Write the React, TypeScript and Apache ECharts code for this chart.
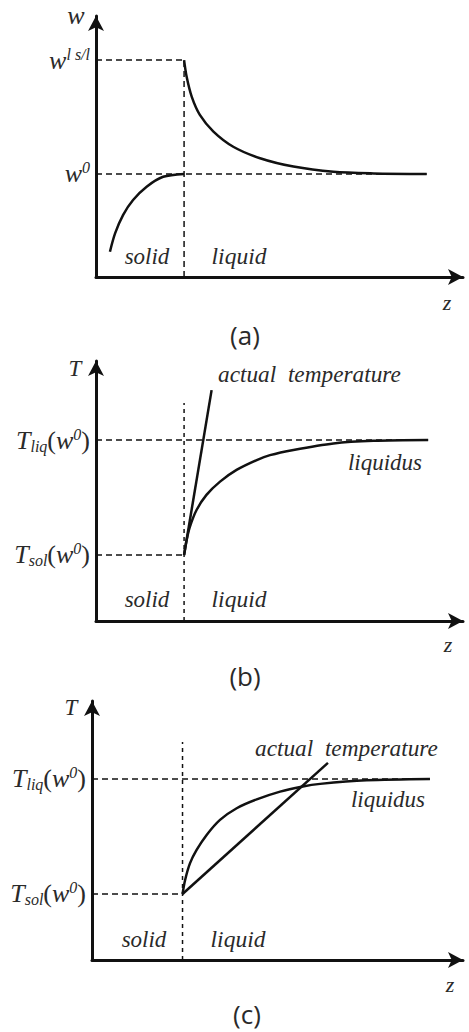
import React, { useEffect, useRef } from "react";
import * as echarts from "echarts";

// ---- Panel (a): solute concentration w across the solid/liquid interface ----
const aInterfaceZ = 24.0;
const aW0 = 39.5;
const aWsl = 83.1;
const aFarZ = 90.1;
const aSolidZ = [3.8, 5.2, 7.4, 10.1, 13.8, 18.3, 24.0];
const aSolidW = [9.7, 16.7, 23.8, 29.5, 34.6, 38.4, 39.5];
const aLiquidZ = [24.0, 24.7, 26.1, 28.3, 32.0, 37.4, 44.7, 53.8, 64.7, 75.6, 90.1];
const aLiquidW = [83.1, 76.7, 69.0, 62.1, 55.7, 49.9, 45.5, 42.3, 40.3, 39.7, 39.5];

// ---- Panel (b): steep actual temperature gradient ----
const bInterfaceZ = 24.0;
const bTsol = 25.4;
const bTliq = 69.6;
const bDividerTop = 83.8;
const bFarZ = 90.5;
const bActualZ = [24.0, 31.5];
const bActualT = [25.4, 88.8];
const bLiquidusZ = [24.0, 24.7, 25.6, 27.4, 30.1, 33.8, 38.3, 43.8, 47.4, 53.8, 64.7, 75.6, 90.5];
const bLiquidusT = [25.4, 31.2, 36.3, 42.7, 48.5, 53.6, 58.1, 61.9, 63.8, 65.8, 68.3, 69.3, 69.6];

// ---- Panel (c): shallow actual temperature gradient (constitutional undercooling) ----
const cInterfaceZ = 24.4;
const cTsol = 25.5;
const cTliq = 69.9;
const cDividerTop = 84.2;
const cFarZ = 91.1;
const cActualZ = [24.4, 63.6];
const cActualT = [25.5, 76.1];
const cLiquidusZ = [24.4, 25.1, 26.4, 28.2, 30.9, 34.5, 39.0, 44.4, 50.7, 56.5, 61.5, 74.0, 91.1];
const cLiquidusT = [25.5, 30.9, 37.3, 42.5, 48.3, 54.1, 58.6, 62.0, 65.0, 66.9, 68.0, 69.4, 69.9];

const SERIF = "Liberation Serif";
const SANS = "Open Sans";
const INK = "#111";
const TXT = "#2a2a2a";

const zip = (xs: number[], ys: number[]) => xs.map((x, i) => [x, ys[i]]);

const richStyles = {
  b: { fontFamily: SERIF, fontStyle: "italic", fontSize: 26, color: TXT, lineHeight: 28, verticalAlign: "middle" },
  p: { fontFamily: SERIF, fontStyle: "normal", fontSize: 26, color: TXT, lineHeight: 28, verticalAlign: "middle" },
  sup: { fontFamily: SERIF, fontStyle: "italic", fontSize: 16, color: TXT, lineHeight: 17, verticalAlign: "top" },
  sub: { fontFamily: SERIF, fontStyle: "italic", fontSize: 16, color: TXT, lineHeight: 13, verticalAlign: "bottom" },
};

const axisLine = {
  show: true,
  symbol: ["none", "arrow"],
  symbolSize: [12, 15],
  lineStyle: { color: INK, width: 3 },
};

function makeXAxis(gridIndex: number) {
  return {
    type: "value",
    gridIndex,
    min: 0,
    max: 100,
    axisLine,
    axisTick: { show: false },
    axisLabel: { show: false },
    splitLine: { show: false },
  };
}

function makeYAxis(gridIndex: number, values: number[], fmt: (v: number) => string) {
  return {
    type: "value",
    gridIndex,
    min: 0,
    max: 100,
    axisLine,
    axisTick: { show: false },
    splitLine: { show: false },
    axisLabel: {
      show: true,
      customValues: values,
      margin: 6,
      formatter: fmt,
      rich: richStyles,
    },
  };
}

function curve(idx: number, data: number[][], smooth: number | boolean = 0.3) {
  return {
    type: "line",
    xAxisIndex: idx,
    yAxisIndex: idx,
    data,
    smooth,
    showSymbol: false,
    silent: true,
    lineStyle: { color: INK, width: 2.5 },
  };
}

function dashed(idx: number, data: number[][], dash: number[] = [6, 4]) {
  return {
    type: "line",
    xAxisIndex: idx,
    yAxisIndex: idx,
    data,
    showSymbol: false,
    silent: true,
    lineStyle: { color: INK, width: 1.5, type: dash },
  };
}

function label(text: string, x: number, y: number, size = 23, align = "center", font = SERIF, italic = true) {
  return {
    type: "text",
    x,
    y,
    silent: true,
    style: {
      text,
      fill: TXT,
      fontFamily: font,
      fontSize: size,
      fontStyle: italic ? "italic" : "normal",
      align,
      verticalAlign: "middle",
    },
  };
}

export default function App() {
  const ref = useRef<HTMLDivElement>(null);

  useEffect(() => {
    document.body.style.margin = "0";
    if (!ref.current) return;
    const chart = echarts.init(ref.current, undefined, { renderer: "svg" });

    const tLabel = (liq: number) => (v: number) =>
      v === liq ? "{b|T}{sub|liq}{p|(}{b|w}{sup|0}{p|)}" : "{b|T}{sub|sol}{p|(}{b|w}{sup|0}{p|)}";

    const option = {
      animation: false,
      backgroundColor: "#ffffff",
      grid: [
        { left: 96, top: 16, right: 6, height: 261 },
        { left: 96, top: 361, right: 6, height: 260 },
        { left: 92, top: 701, right: 6, height: 259 },
      ],
      xAxis: [makeXAxis(0), makeXAxis(1), makeXAxis(2)],
      yAxis: [
        makeYAxis(0, [aW0, aWsl], (v: number) =>
          v === aWsl ? "{b|w}{sup|l s/l}" : "{b|w}{sup|0}"
        ),
        makeYAxis(1, [bTsol, bTliq], tLabel(bTliq)),
        makeYAxis(2, [cTsol, cTliq], tLabel(cTliq)),
      ],
      series: [
        // (a)
        dashed(0, [[0, aWsl], [aInterfaceZ, aWsl]]),
        dashed(0, [[0, aW0], [aFarZ, aW0]]),
        dashed(0, [[aInterfaceZ, 0], [aInterfaceZ, aWsl]]),
        curve(0, zip(aSolidZ, aSolidW)),
        curve(0, zip(aLiquidZ, aLiquidW)),
        // (b)
        dashed(1, [[0, bTliq], [bFarZ, bTliq]]),
        dashed(1, [[0, bTsol], [bInterfaceZ, bTsol]]),
        dashed(1, [[bInterfaceZ, 0], [bInterfaceZ, bDividerTop]], [4, 4]),
        curve(1, zip(bActualZ, bActualT), false),
        curve(1, zip(bLiquidusZ, bLiquidusT)),
        // (c)
        dashed(2, [[0, cTliq], [cFarZ, cTliq]]),
        dashed(2, [[0, cTsol], [cInterfaceZ, cTsol]]),
        dashed(2, [[cInterfaceZ, 0], [cInterfaceZ, cDividerTop]], [4, 4]),
        curve(2, zip(cActualZ, cActualT), false),
        curve(2, zip(cLiquidusZ, cLiquidusT)),
      ],
      graphic: [
        // (a)
        label("w", 76, 15, 26),
        label("solid", 147, 256, 23),
        label("liquid", 239, 256, 23.5),
        label("z", 447, 302, 22),
        label("(a)", 245, 335, 26, "center", SANS, false),
        // (b)
        label("T", 75, 368, 23),
        label("actual  temperature", 218, 374, 23.3, "left"),
        label("liquidus", 385, 462, 23),
        label("solid", 147, 599, 23),
        label("liquid", 239, 599, 23.5),
        label("z", 448, 644, 22),
        label("(b)", 245, 676, 26, "center", SANS, false),
        // (c)
        label("T", 71, 707, 23),
        label("actual  temperature", 255, 748, 23.3, "left"),
        label("liquidus", 388, 799, 23),
        label("solid", 144, 939, 23),
        label("liquid", 238, 939, 23.5),
        label("z", 450, 984, 22),
        label("(c)", 247, 1014, 26, "center", SANS, false),
      ],
    };

    chart.setOption(option as any);
    return () => chart.dispose();
  }, []);

  return <div ref={ref} style={{ width: 469, height: 1032 }} />;
}
